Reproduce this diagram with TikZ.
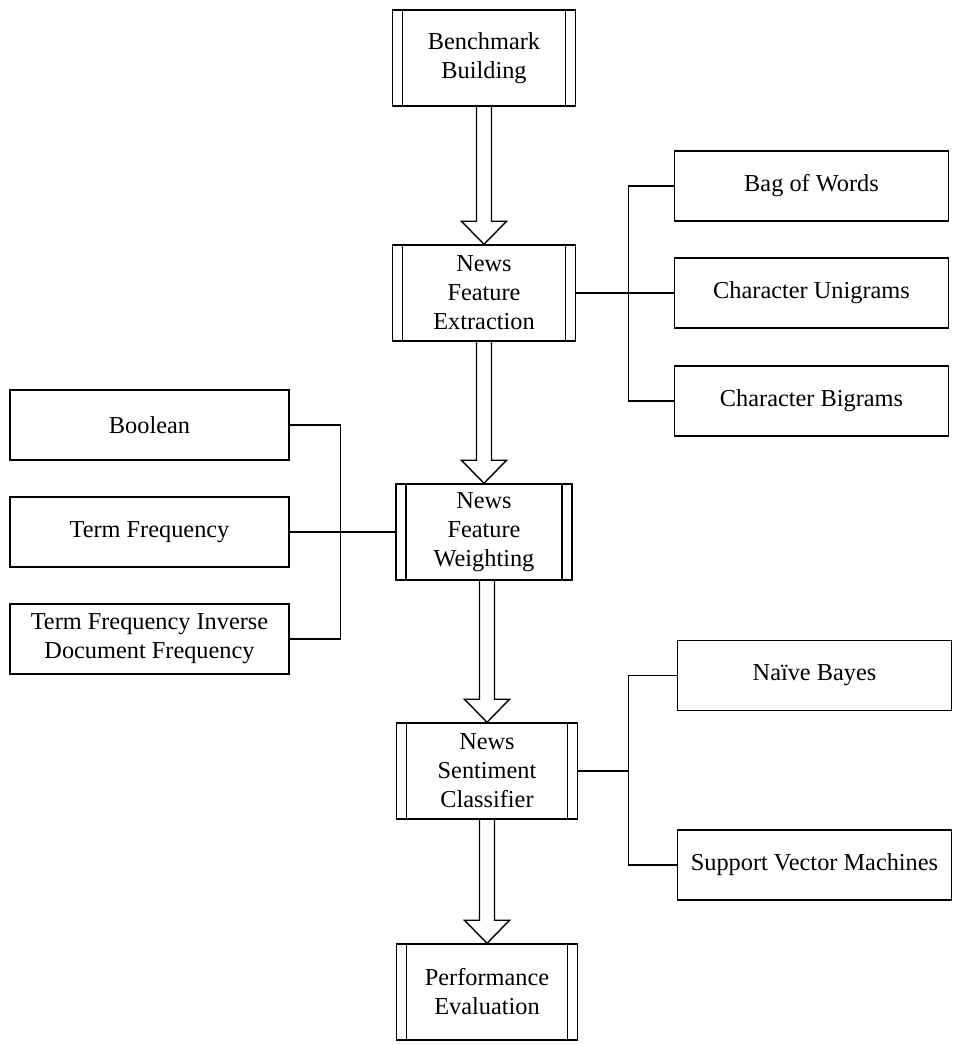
\documentclass[tikz,border=0pt]{standalone}
\usepackage{fontspec}
\setmainfont{Liberation Serif}
\usetikzlibrary{calc}
\newcommand{\hollowarrow}[2]{%
  \draw ($(#1.south -| #2.north)+(-7.5,0)$) -- ($(#2.north)+(-7.5,-23)$) -- ($(#2.north)+(-22.5,-23)$) -- (#2.north)
    -- ($(#2.north)+(22.5,-23)$) -- ($(#2.north)+(7.5,-23)$) -- ($(#1.south -| #2.north)+(7.5,0)$);}
\begin{document}
\begin{tikzpicture}[x=0.025cm, y=-0.025cm, line width=1pt,
    every node/.style={font=\fontsize{17.3}{20.6}\selectfont, align=center, inner sep=0pt},
    procbox/.style={draw, minimum width=4.58cm, minimum height=2.4cm,
      path picture={\draw ([xshift=0.25cm]path picture bounding box.north west) -- ([xshift=0.25cm]path picture bounding box.south west);
        \draw ([xshift=-0.25cm]path picture bounding box.north east) -- ([xshift=-0.25cm]path picture bounding box.south east);}},
    optbox/.style={draw, minimum width=6.85cm, minimum height=1.75cm}]
\useasboundingbox (0,0) rectangle (954,1045);
\node[procbox] (bench) at (484,58) {Benchmark\\Building};
\node[procbox] (extr) at (484,293) {News\\Feature\\Extraction};
\node[procbox, minimum width=4.4cm] (weight) at (484,532) {News\\Feature\\Weighting};
\node[procbox, minimum width=4.53cm] (classif) at (487,771) {News\\Sentiment\\Classifier};
\node[procbox, minimum width=4.53cm] (perf) at (487,992) {Performance\\Evaluation};
\node[optbox] (bow) at (811.5,186) {Bag of Words};
\node[optbox] (uni) at (811.5,293) {Character Unigrams};
\node[optbox] (bi) at (811.5,401) {Character Bigrams};
\node[optbox, minimum width=6.98cm] (bool) at (149.5,425) {Boolean};
\node[optbox, minimum width=6.98cm] (tf) at (149.5,532) {Term Frequency};
\node[optbox, minimum width=6.98cm] (tfidf) at (149.5,639) {Term Frequency Inverse\\Document Frequency};
\node[optbox] (nb) at (814.5,675.5) {Naïve Bayes};
\node[optbox] (svm) at (814.5,865) {Support Vector Machines};
\hollowarrow{bench}{extr}
\hollowarrow{extr}{weight}
\hollowarrow{weight}{classif}
\hollowarrow{classif}{perf}
\coordinate (jx) at ($(extr.east)+(52,0)$);
\coordinate (jw) at ($(weight.west)+(-55,0)$);
\coordinate (jc) at ($(classif.east)+(50,0)$);
\draw (extr.east) -- (jx) (uni.west) -- (jx);
\draw (bow.west) -| (jx) |- (bi.west);
\draw (weight.west) -- (jw) (tf.east) -- (jw);
\draw (bool.east) -| (jw) |- (tfidf.east);
\draw (classif.east) -- (jc);
\draw (nb.west) -| (jc) |- (svm.west);
\end{tikzpicture}
\end{document}
